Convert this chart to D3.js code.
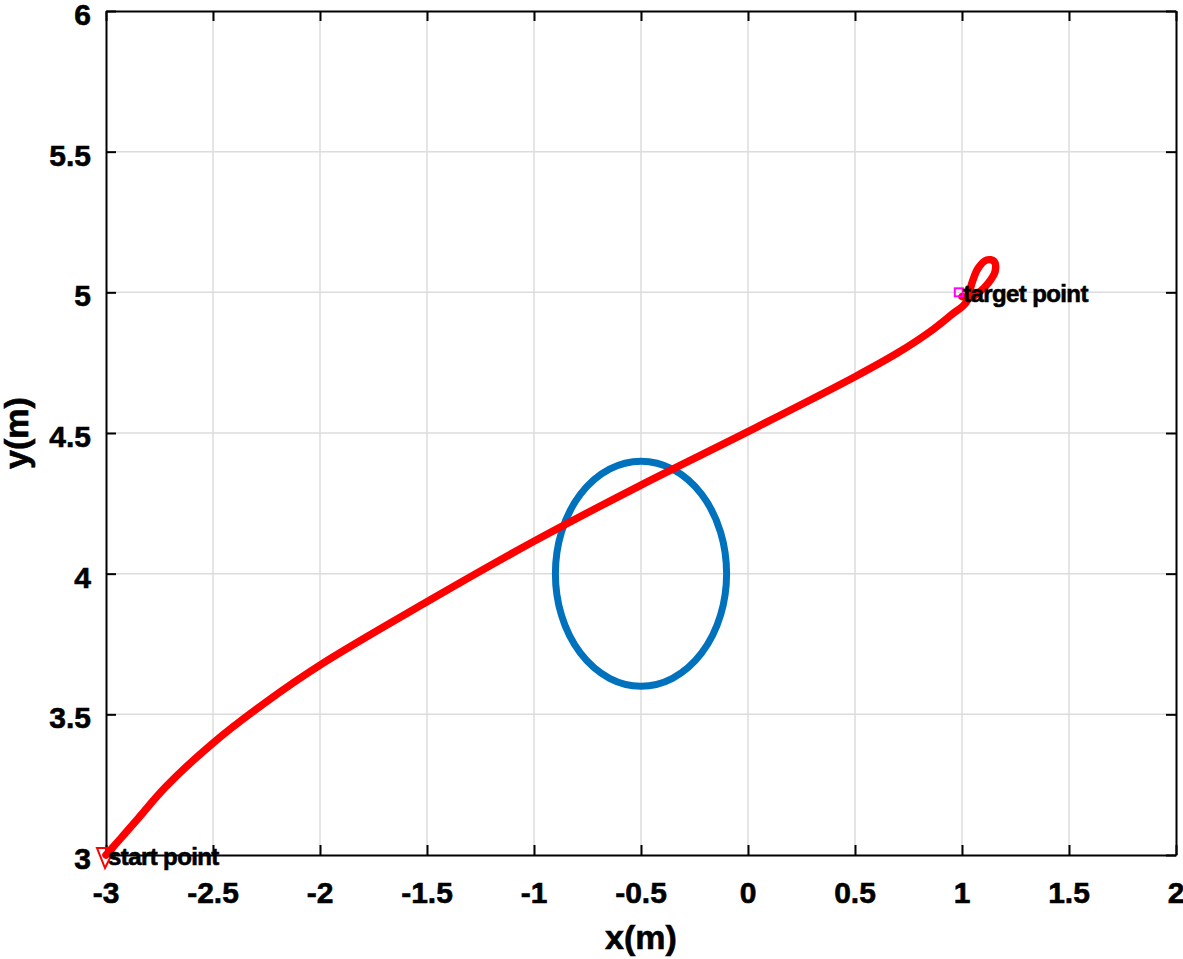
<!DOCTYPE html>
<html>
<head>
<meta charset="utf-8">
<script src="https://cdn.jsdelivr.net/npm/d3@7"></script>
<style>
  body { margin: 0; background: #fff; }
  text { font-family: "Liberation Sans", Arial, sans-serif; font-weight: bold; fill: #000; stroke: #000; stroke-width: 0.6px; }
</style>
</head>
<body>
<div id="chart"></div>
<script>
// path of the robot
const pathX = [-3, -2.93, -2.85, -2.72, -2.5, -2.25, -2, -1.5, -1, -0.5, 0, 0.5, 0.7, 0.85, 0.95, 1.02, 1.045, 1.075, 1.115, 1.15, 1.155, 1.125, 1.08, 1.035, 1.0];
const pathY = [3, 3.06, 3.13, 3.243, 3.398, 3.545, 3.675, 3.9, 4.115, 4.315, 4.505, 4.70, 4.785, 4.86, 4.92, 4.965, 5.03, 5.085, 5.115, 5.11, 5.075, 5.035, 5.0, 4.98, 4.985];

// obstacle
const obstacleCenter = [-0.5, 4];
const obstacleRadius = 0.4;

// start / target
const startPoint = [-3, 3];
const targetPoint = [0.985, 5];
const startLabel = "start point";
const targetLabel = "target point";

const xTicks = [-3, -2.5, -2, -1.5, -1, -0.5, 0, 0.5, 1, 1.5, 2];
const yTicks = [3, 3.5, 4, 4.5, 5, 5.5, 6];

const W = 1183, H = 959;
const margin = { top: 11, right: 7, bottom: 104, left: 106 };
const width = W - margin.left - margin.right;
const height = H - margin.top - margin.bottom;

const svg = d3.select("#chart").append("svg")
    .attr("width", W)
    .attr("height", H);

const g = svg.append("g")
    .attr("transform", `translate(${margin.left},${margin.top})`);

const x = d3.scaleLinear().domain([-3, 2]).range([0, width]);
const y = d3.scaleLinear().domain([3, 6]).range([height, 0]);

// grid
g.append("g").selectAll("line")
    .data(xTicks.slice(1, -1))
    .enter().append("line")
    .attr("x1", d => x(d)).attr("x2", d => x(d))
    .attr("y1", 0).attr("y2", height)
    .attr("stroke", "#dcdcdc").attr("stroke-width", 1.5);
g.append("g").selectAll("line")
    .data(yTicks.slice(1, -1))
    .enter().append("line")
    .attr("y1", d => y(d)).attr("y2", d => y(d))
    .attr("x1", 0).attr("x2", width)
    .attr("stroke", "#dcdcdc").attr("stroke-width", 1.5);

// axes with inner ticks on all four sides
const tickLen = 10;
const axisB = g.append("g").attr("transform", `translate(0,${height})`)
    .call(d3.axisBottom(x).tickValues(xTicks).tickSizeInner(-tickLen).tickSizeOuter(0).tickFormat(""));
const axisT = g.append("g")
    .call(d3.axisTop(x).tickValues(xTicks).tickSizeInner(-tickLen).tickSizeOuter(0).tickFormat(""));
const axisL = g.append("g")
    .call(d3.axisLeft(y).tickValues(yTicks).tickSizeInner(-tickLen).tickSizeOuter(0).tickFormat(""));
const axisR = g.append("g").attr("transform", `translate(${width},0)`)
    .call(d3.axisRight(y).tickValues(yTicks).tickSizeInner(-tickLen).tickSizeOuter(0).tickFormat(""));
[axisB, axisT, axisL, axisR].forEach(a => {
    a.selectAll("path").attr("stroke", "#000").attr("stroke-width", 2);
    a.selectAll("line").attr("stroke", "#000").attr("stroke-width", 2);
    a.selectAll("text").remove();
});

// tick labels
g.append("g").selectAll("text")
    .data(xTicks)
    .enter().append("text")
    .attr("x", d => x(d))
    .attr("y", height + 48)
    .attr("text-anchor", "middle")
    .style("font-size", "30px")
    .text(d => d);
g.append("g").selectAll("text")
    .data(yTicks)
    .enter().append("text")
    .attr("x", -15)
    .attr("y", d => y(d) + 14)
    .attr("text-anchor", "end")
    .style("font-size", "30px")
    .text(d => d);

// axis titles
svg.append("text")
    .attr("x", margin.left + x(-0.5))
    .attr("y", 949)
    .attr("text-anchor", "middle")
    .style("font-size", "34px")
    .text("x(m)");
svg.append("text")
    .attr("transform", `translate(28,${margin.top + y(4.5)}) rotate(-90)`)
    .attr("text-anchor", "middle")
    .style("font-size", "34px")
    .text("y(m)");

// obstacle
g.append("ellipse")
    .attr("cx", x(obstacleCenter[0]))
    .attr("cy", y(obstacleCenter[1]))
    .attr("rx", x(obstacleCenter[0] + obstacleRadius) - x(obstacleCenter[0]))
    .attr("ry", y(obstacleCenter[1]) - y(obstacleCenter[1] + obstacleRadius))
    .attr("fill", "none")
    .attr("stroke", "#0072BD")
    .attr("stroke-width", 7);

// path
const pts = pathX.map((v, i) => [v, pathY[i]]);
g.append("path")
    .datum(pts)
    .attr("fill", "none")
    .attr("stroke", "#ff0000")
    .attr("stroke-width", 7.5)
    .attr("stroke-linecap", "round")
    .attr("stroke-linejoin", "round")
    .attr("d", d3.line().x(d => x(d[0])).y(d => y(d[1])).curve(d3.curveCatmullRom.alpha(0.5)));

// start marker (down triangle)
g.append("path")
    .attr("transform", `translate(${x(startPoint[0])},${y(startPoint[1])})`)
    .attr("d", "M-9,-7L9,-7L-1,13Z")
    .attr("fill", "none")
    .attr("stroke", "#ff0000")
    .attr("stroke-width", 2);

// target marker (square)
g.append("rect")
    .attr("x", x(targetPoint[0]) - 4)
    .attr("y", y(targetPoint[1]) - 4)
    .attr("width", 8).attr("height", 8)
    .attr("fill", "none")
    .attr("stroke", "#ff00ff")
    .attr("stroke-width", 2);

// annotations
g.append("text")
    .attr("x", x(startPoint[0]) + 2)
    .attr("y", y(startPoint[1]) + 10)
    .style("font-size", "24px")
    .style("letter-spacing", "-0.6px")
    .text(startLabel);
g.append("text")
    .attr("x", x(1) + 1)
    .attr("y", y(targetPoint[1]) + 10)
    .style("font-size", "24px")
    .style("letter-spacing", "-0.6px")
    .text(targetLabel);
</script>
</body>
</html>
